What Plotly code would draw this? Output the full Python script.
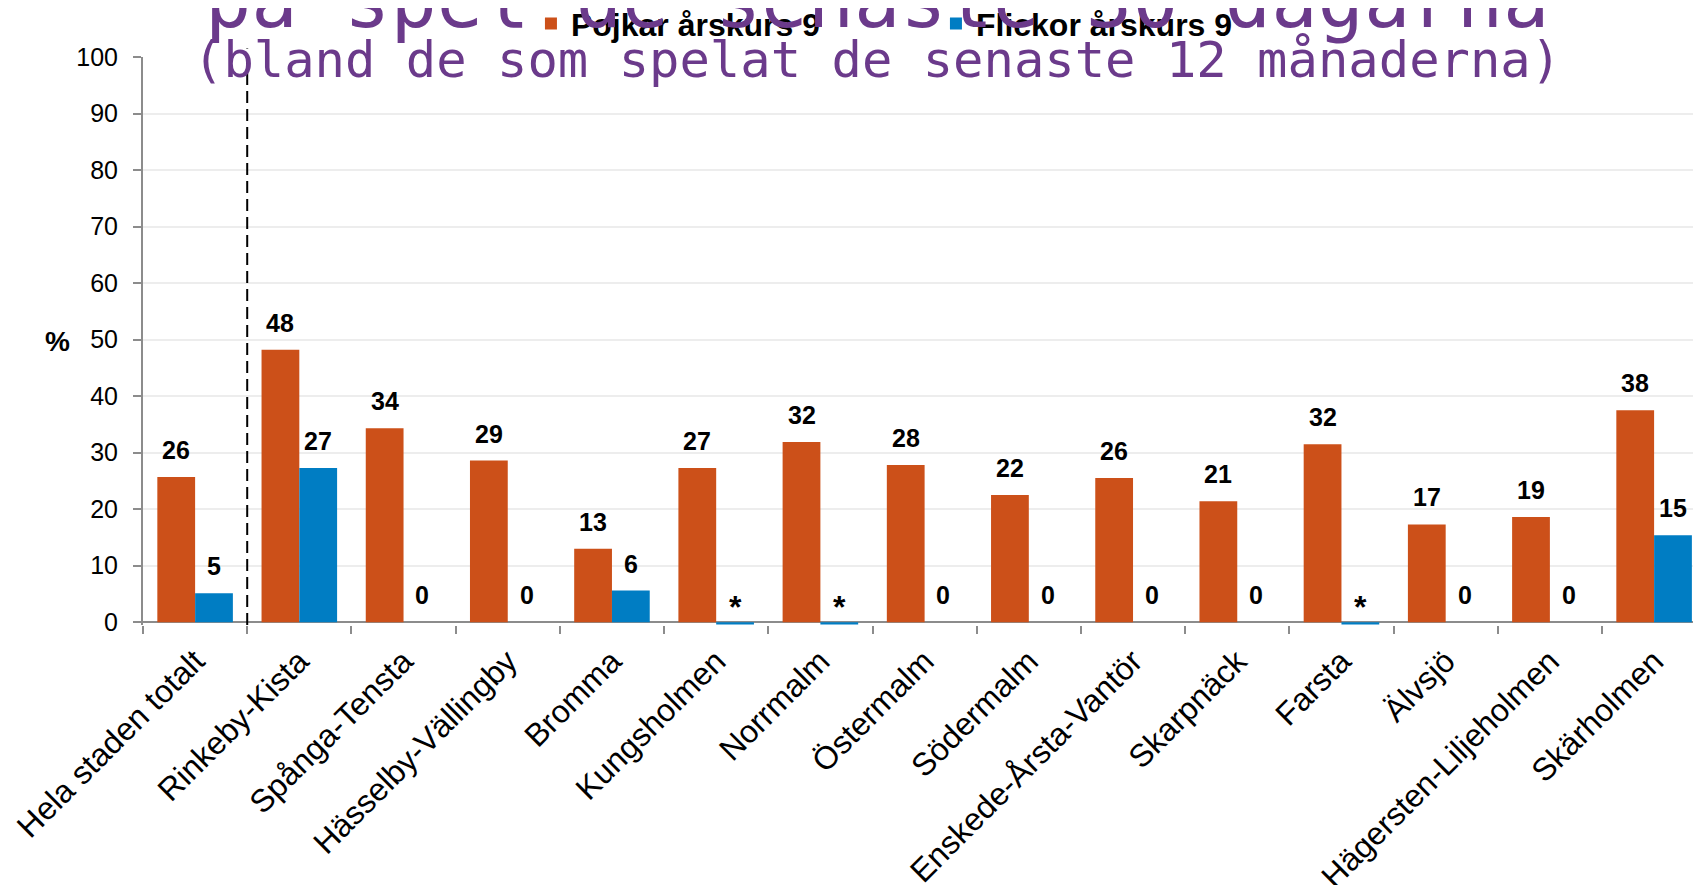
import plotly.graph_objects as go

categories = ["Hela staden totalt", "Rinkeby-Kista", "Spånga-Tensta", "Hässelby-Vällingby",
              "Bromma", "Kungsholmen", "Norrmalm", "Östermalm", "Södermalm",
              "Enskede-Årsta-Vantör", "Skarpnäck", "Farsta", "Älvsjö",
              "Hägersten-Liljeholmen", "Skärholmen"]
pojkar = [25.7, 48.2, 34.3, 28.6, 13.0, 27.3, 31.9, 27.8, 22.5, 25.5, 21.4, 31.5, 17.3, 18.6, 37.5]
flickor = [5.1, 27.3, 0, 0, 5.6, -0.4, -0.4, 0, 0, 0, 0, -0.4, 0, 0, 15.4]
pojkar_labels = ["26", "48", "34", "29", "13", "27", "32", "28", "22", "26", "21", "32", "17", "19", "38"]
flickor_labels = ["5", "27", "0", "0", "6", "*", "*", "0", "0", "0", "0", "*", "0", "0", "15"]
series_names = ["Pojkar årskurs 9", "Flickor årskurs 9"]
title_line = "på spel de senaste 30 dagarna"
subtitle_line = "(bland de som spelat de senaste 12 månaderna)"
y_ticks = list(range(0, 101, 10))

ORANGE = "#CC5019"
BLUE = "#007DC3"
PURPLE = "#6B3A8B"
SANS = "Liberation Sans, Arial, sans-serif"
MONO = "DejaVu Sans Mono, monospace"
BARGAP = 0.275

fig = go.Figure()
fig.add_trace(go.Bar(x=categories, y=pojkar, name=series_names[0],
                     marker=dict(color=ORANGE, line=dict(width=0))))
fig.add_trace(go.Bar(x=categories, y=flickor, name=series_names[1],
                     marker=dict(color=BLUE, line=dict(width=0))))

annotations = []
off = (1 - BARGAP) / 4
for i in range(len(categories)):
    for vals, labs, sgn in ((pojkar, pojkar_labels, -1), (flickor, flickor_labels, 1)):
        lab = labs[i]
        star = lab == "*"
        annotations.append(dict(
            x=i + sgn * off, y=vals[i], xref="x", yref="y", text=lab, showarrow=False,
            yshift=17 if star else 27, xanchor="center", yanchor="middle",
            font=dict(family=SANS, size=32 if star else 25, color="black", weight="bold")))

annotations.append(dict(x=-0.0546, y=0.5, xref="paper", yref="paper", text="%",
                        showarrow=False, xanchor="center", yanchor="middle",
                        font=dict(family=SANS, size=28, color="black", weight="bold")))
annotations.append(dict(x=0.471, y=1.0, xref="paper", yref="paper", text=subtitle_line,
                        showarrow=False, xanchor="center", yanchor="middle", yshift=-2,
                        font=dict(family=MONO, size=50.5, color=PURPLE)))
annotations.append(dict(x=0.471, y=1.0, xref="paper", yref="paper", text=title_line,
                        showarrow=False, xanchor="center", yanchor="middle", yshift=57,
                        font=dict(family=MONO, size=77, color=PURPLE)))

fig.update_layout(
    width=1693, height=877,
    margin=dict(l=135, r=0, t=49, b=260, autoexpand=False),
    paper_bgcolor="white", plot_bgcolor="white",
    barmode="group", bargap=BARGAP, bargroupgap=0,
    annotations=annotations,
    shapes=[dict(type="line", xref="x", yref="paper", x0=0.5, x1=0.5, y0=0.0, y1=1.015,
                 line=dict(color="black", width=2, dash="12px,6px"))],
    legend=dict(orientation="h", x=0.249, y=0.982, yref="container", xanchor="left", yanchor="middle",
                font=dict(family=SANS, size=32, color="black", weight="bold"),
                bgcolor="rgba(0,0,0,0)", entrywidth=360, itemwidth=30),
    xaxis=dict(type="category", range=[-0.5, 14.45], tickson="boundaries",
               ticks="outside", ticklen=8, tickcolor="#8C8C8C", tickwidth=2,
               showgrid=False, showline=False, tickangle=-45, ticklabelstandoff=10,
               tickfont=dict(family=SANS, size=32, color="black")),
    yaxis=dict(range=[-0.5, 100], tickvals=y_ticks, ticks="outside", ticklen=8,
               tickcolor="#8C8C8C", tickwidth=2, showline=True, linecolor="#8C8C8C",
               linewidth=2, showgrid=True, gridcolor="#EDEDED", gridwidth=2,
               zeroline=True, zerolinecolor="#8C8C8C", zerolinewidth=2,
               ticklabelstandoff=10,
               tickfont=dict(family=SANS, size=25, color="black")),
)

fig.write_html("out.html")
